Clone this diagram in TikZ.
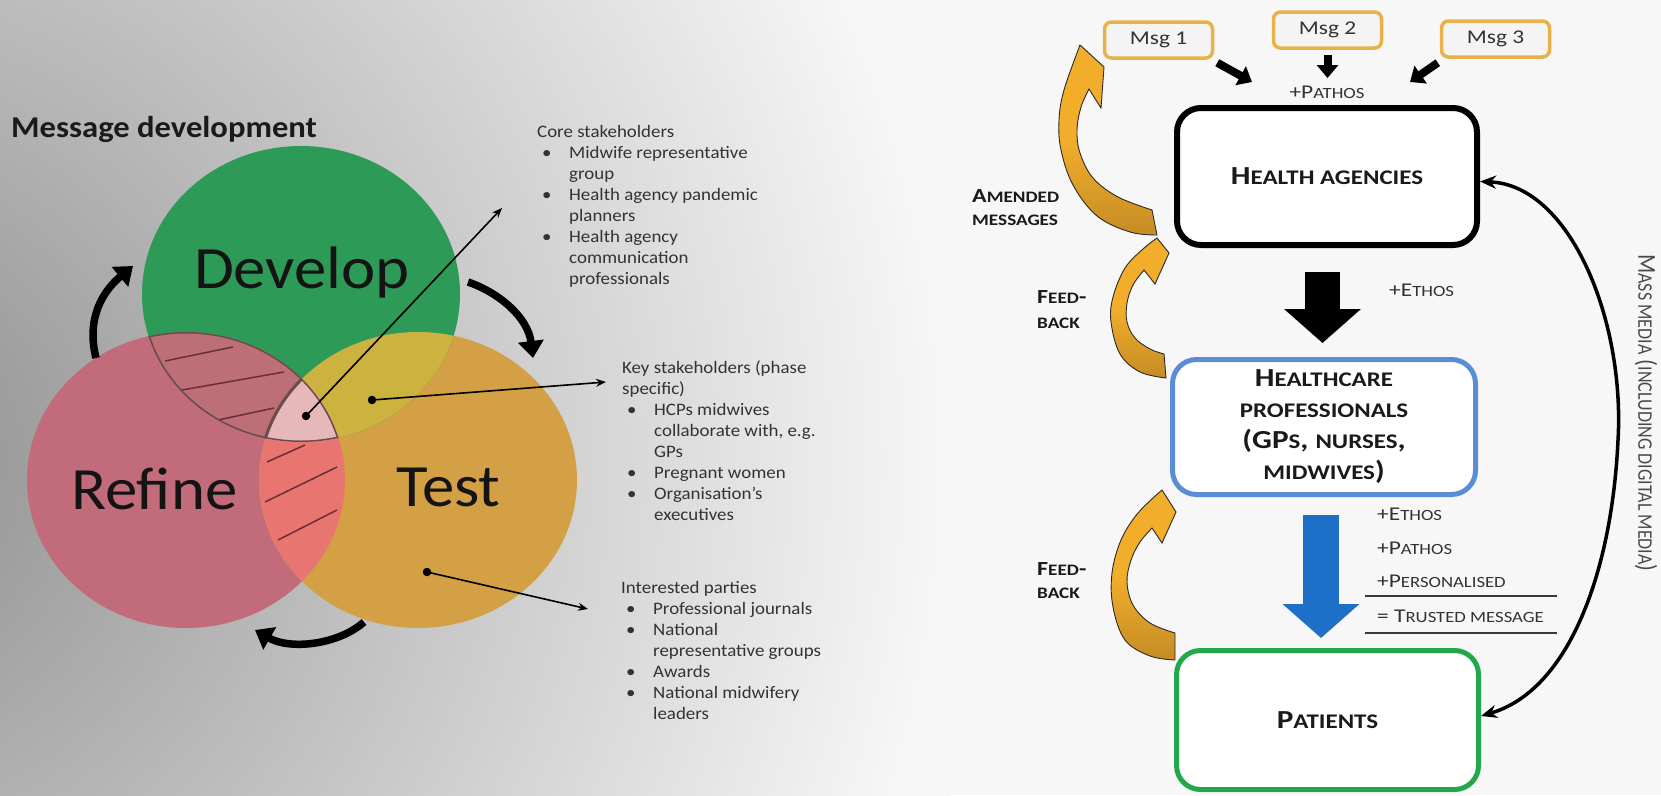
\documentclass[tikz,border=0pt]{standalone}
\usepackage{fontspec}
\setmainfont{Carlito}
\newfontfamily\leftfam{Carlito}[FakeStretch=1.08]
\newfontfamily\rightfam{Carlito}[FakeStretch=1.2]
\usetikzlibrary{arrows.meta}
\makeatletter
\newcommand{\lowsc}[1]{{\fontsize{\fpeval{0.8*\f@size}}{\f@baselineskip}\selectfont #1}}
\makeatother
\newcommand{\itembul}{\hspace*{5pt}\makebox[27pt][l]{•}}
\newcommand{\itemcont}{\hspace*{32pt}}

\definecolor{cdev}{HTML}{2E9A57}
\definecolor{cref}{HTML}{C26B7B}
\definecolor{ctest}{HTML}{D3A046}
\definecolor{cdr}{HTML}{BC6F74}
\definecolor{cdt}{HTML}{CCB23E}
\definecolor{crt}{HTML}{E8756F}
\definecolor{ctri}{HTML}{E6B8B9}
\definecolor{triedge}{HTML}{6B4B4B}
\definecolor{hatch}{HTML}{6A2E36}
\definecolor{vtxt}{HTML}{141414}
\definecolor{txt}{HTML}{333333}
\definecolor{boxtxt}{HTML}{1A1A1A}
\definecolor{gold}{HTML}{E8B24A}
\definecolor{msgfill}{HTML}{F4F4F4}
\definecolor{hcpblue}{HTML}{5B8DD6}
\definecolor{patgreen}{HTML}{22A84A}
\definecolor{arrowblue}{HTML}{1E6FC8}
\definecolor{orlight}{HTML}{F2AE2A}
\definecolor{ordark}{HTML}{C58C26}
\definecolor{ribbonedge}{HTML}{2A2A2A}
\definecolor{rulec}{HTML}{3A3A3A}
\definecolor{mediatxt}{HTML}{4A4A4A}
\definecolor{bgdark}{HTML}{8E8E8E}
\definecolor{bglight}{HTML}{F7F7F7}

\pgfdeclareradialshading{backdrop}{\pgfpoint{0bp}{0bp}}{color(0bp)=(bgdark); color(25bp)=(bglight); color(50bp)=(bglight)}

\begin{document}
\begin{tikzpicture}[x=1pt, y=-1pt,
  vennlabel/.style={font=\leftfam\fontsize{60}{60}\selectfont, text=vtxt, inner sep=0},
  blocktext/.style={font=\leftfam\fontsize{17.5}{21}\selectfont, text=txt, align=left, anchor=north west, inner sep=0},
  dot/.style={circle, fill=black, inner sep=0, minimum size=8.5pt},
  pointer/.style={line width=1.6pt, -{Stealth[length=10pt,width=8pt]}},
  cyc/.style={line width=7.5pt, -{Triangle[length=17pt,width=25pt]}},
  hatchline/.style={draw=hatch, line width=1.5pt},
  msgbox/.style={draw=gold, line width=3.5pt, rounded corners=7pt, fill=msgfill, minimum width=108pt, minimum height=36pt, inner sep=0, font=\rightfam\fontsize{19.5}{22}\selectfont, text=txt},
  msgarr/.style={line width=8pt, -{Triangle[length=13pt,width=21pt]}},
  bigbox/.style={rounded corners=24pt, fill=white, inner sep=0, align=center, font=\rightfam\bfseries\fontsize{26}{31}\selectfont, text=boxtxt},
  lbl/.style={font=\rightfam\fontsize{19.5}{22}\selectfont, text=txt, inner sep=0},
  sidelbl/.style={font=\rightfam\bfseries\fontsize{20}{22}\selectfont, text=boxtxt, inner sep=0, anchor=base west},
  ribbon/.style={top color=orlight, bottom color=ordark, middle color=orlight, draw=ribbonedge, line width=0.9pt},
  media/.style={line width=3.5pt, {Stealth[length=16pt,width=13pt]}-{Stealth[length=16pt,width=13pt]}},
  sumrule/.style={line width=2.5pt, draw=rulec}
]
\useasboundingbox (0,0) rectangle (1661,795);

% backdrop: grey on the left fading to near white
\fill[bglight] (0,0) rectangle (1661,795);
\begin{scope}
  \clip (0,0) rectangle (1661,795);
  \shade[shading=backdrop] (-1250,-640) rectangle (950,1560);
\end{scope}

% ---------- Venn diagram ----------
\fill[cref]  (186,480) ellipse [x radius=159, y radius=148];
\fill[ctest] (418,480) ellipse [x radius=159, y radius=148];
\fill[cdev]  (301,294) ellipse [x radius=159, y radius=148];
\begin{scope}
  \clip (301,294) ellipse [x radius=159, y radius=148];
  \fill[cdr] (186,480) ellipse [x radius=159, y radius=148];
  \fill[cdt] (418,480) ellipse [x radius=159, y radius=148];
\end{scope}
\begin{scope}
  \clip (186,480) ellipse [x radius=159, y radius=148];
  \fill[crt] (418,480) ellipse [x radius=159, y radius=148];
\end{scope}

% hatching in the two lower-left overlaps
\draw[hatchline] (165,361) -- (233,347);
\draw[hatchline] (182,390) -- (284,372);
\draw[hatchline] (218,420) -- (274,408);
\draw[hatchline] (267,462) -- (305,445);
\draw[hatchline] (265,502) -- (337,467);
\draw[hatchline] (278,540) -- (337,510);

% centre region shared by all three
\begin{scope}
  \clip (301,294) ellipse [x radius=159, y radius=148];
  \clip (186,480) ellipse [x radius=159, y radius=148];
  \fill[ctri] (418,480) ellipse [x radius=159, y radius=148];
  \draw[triedge, line width=3pt] (301,294) ellipse [x radius=159, y radius=148];
  \draw[triedge, line width=3pt] (186,480) ellipse [x radius=159, y radius=148];
  \draw[triedge, line width=3pt] (418,480) ellipse [x radius=159, y radius=148];
\end{scope}

\node[vennlabel, anchor=base] (develop) at (302,288) {Develop};
\node[vennlabel, anchor=base west] (refine) at (71,509) {Refine};
\node[vennlabel, anchor=base west] (test) at (396,506) {Test};

% cycle arrows around the circles
\draw[cyc] (96,358) .. controls (86,318) and (103,291) .. (133,266);
\draw[cyc] (468,282) .. controls (500,293) and (528,318) .. (533,358);
\draw[cyc] (364,622) .. controls (338,645) and (290,650) .. (255,630);

\node[font=\leftfam\bfseries\fontsize{30.2}{34}\selectfont, text=boxtxt, anchor=base west, inner sep=0] (title) at (11,137) {Message development};

% stakeholder groups
\node[blocktext] (core) at (537,123.5) {\rule{0pt}{14pt}Core stakeholders\\
\itembul Midwife representative\\
\itemcont group\\
\itembul Health agency pandemic\\
\itemcont planners\\
\itembul Health agency\\
\itemcont communication\\
\itemcont professionals};

\node[blocktext] (key) at (622,359.5) {\rule{0pt}{14pt}Key stakeholders (phase\\
specific)\\
\itembul HCPs midwives\\
\itemcont collaborate with, e.g.\\
\itemcont GPs\\
\itembul Pregnant women\\
\itembul Organisation’s\\
\itemcont executives};

\node[blocktext] (interest) at (621,579) {\rule{0pt}{14pt}Interested parties\\
\itembul Professional journals\\
\itembul National\\
\itemcont representative groups\\
\itembul Awards\\
\itembul National midwifery\\
\itemcont leaders};

\node[dot] (dcore) at (306,416) {};
\node[dot] (dkey) at (372,400) {};
\node[dot] (dint) at (427,572) {};
\coordinate (ecore) at (502,208);
\coordinate (ekey) at (606,382);
\coordinate (eint) at (588,609);
\draw[pointer] (dcore.center) -- (ecore);
\draw[pointer] (dkey.center) -- (ekey);
\draw[pointer] (dint.center) -- (eint);

% ---------- message flow ----------
% feedback ribbons
\shadedraw[ribbon] (1080,45) -- (1104,67) -- (1101,108) -- (1089,89)
  -- plot[smooth, tension=0.6] coordinates {(1089,89) (1081,107) (1077,130) (1080,153) (1093,178) (1118,197) (1152,210)}
  -- (1157,235)
  -- plot[smooth, tension=0.6] coordinates {(1157,235) (1130,232) (1097,216) (1073,185) (1061,150) (1059,120) (1064,90) (1080,45)}
  -- cycle;
\shadedraw[ribbon] (1157,238) -- (1169,253) -- (1155,284) -- (1144,270)
  -- plot[smooth, tension=0.6] coordinates {(1144,270) (1133,285) (1127,303) (1127,322) (1135,338) (1150,349) (1164,354)}
  -- (1166,378)
  -- plot[smooth, tension=0.6] coordinates {(1166,378) (1140,372) (1120,354) (1111,322) (1113,297) (1125,268) (1143,249) (1157,238)}
  -- cycle;
\shadedraw[ribbon] (1162,490) -- (1176,512) -- (1162,543) -- (1152,528)
  -- plot[smooth, tension=0.6] coordinates {(1152,528) (1140,542) (1131,560) (1127,582) (1133,605) (1150,623) (1175,633)}
  -- (1175,660)
  -- plot[smooth, tension=0.6] coordinates {(1175,660) (1150,656) (1125,640) (1113,607) (1112,573) (1121,540) (1138,513) (1162,490)}
  -- cycle;

\node[sidelbl] (amend1) at (972,202) {A\lowsc{MENDED}};
\node[sidelbl] (amend2) at (972,225) {\lowsc{MESSAGES}};
\node[sidelbl] (fbaa) at (1037,303) {F\lowsc{EED}-};
\node[sidelbl] (fbab) at (1037,328) {\lowsc{BACK}};
\node[sidelbl] (fbba) at (1037,575) {F\lowsc{EED}-};
\node[sidelbl] (fbbb) at (1037,598) {\lowsc{BACK}};

% messages
\node[msgbox] (msg1) at (1158.5,40) {Msg 1};
\node[msgbox] (msg2) at (1327.5,30) {Msg 2};
\node[msgbox] (msg3) at (1495.5,39) {Msg 3};
\coordinate (m1e) at (1252,82);
\coordinate (m2e) at (1327.5,78);
\coordinate (m3e) at (1410,82);
\draw[msgarr] ([shift={(3pt,-3pt)}]msg1.south east) -- (m1e);
\draw[msgarr] ([yshift=-5pt]msg2.south) -- (m2e);
\draw[msgarr] ([shift={(-2pt,-4pt)}]msg3.south west) -- (m3e);
\node[lbl, anchor=base] (pathostop) at (1327,98) {+P\lowsc{ATHOS}};

% the three audiences
\node[bigbox, draw=black, line width=6pt, minimum width=300pt, minimum height=137pt] (ha) at (1327,176.5)
  {\raisebox{-4pt}{H\lowsc{EALTH AGENCIES}}};
\node[bigbox, draw=hcpblue, line width=5pt, minimum width=303pt, minimum height=135pt] (hcp) at (1324,427)
  {H\lowsc{EALTHCARE}\\ \lowsc{PROFESSIONALS}\\ (GP\lowsc{S}, \lowsc{NURSES},\\ \lowsc{MIDWIVES})};
\node[bigbox, draw=patgreen, line width=5pt, minimum width=302pt, minimum height=139pt] (pat) at (1327.5,720)
  {P\lowsc{ATIENTS}};

% block arrows between audiences
\draw[line width=35pt, -{Triangle[length=34pt,width=75pt]}]
  ([xshift=-4.5pt,yshift=-24pt]ha.south) -- ([xshift=-1.5pt,yshift=14pt]hcp.north);
\draw[arrowblue, line width=36pt, -{Triangle[length=34pt,width=75pt]}]
  ([xshift=-3pt,yshift=-17.5pt]hcp.south) -- ([xshift=-6.5pt,yshift=10pt]pat.north);

\node[lbl, anchor=base west] (ethostop) at (1389,296) {+E\lowsc{THOS}};
\node[lbl, anchor=base west] (ethos) at (1377,520) {+E\lowsc{THOS}};
\node[lbl, anchor=base west] (pathos) at (1377,554) {+P\lowsc{ATHOS}};
\node[lbl, anchor=base west] (personal) at (1377,587) {+P\lowsc{ERSONALISED}};
\node[lbl, anchor=base west] (trusted) at (1377,622) {= T\lowsc{RUSTED MESSAGE}};
\coordinate (ra) at (1365,596);
\coordinate (rb) at (1557,596);
\coordinate (rc) at (1365,633);
\coordinate (rd) at (1557,633);
\draw[sumrule] (ra) -- (rb);
\draw[sumrule] (rc) -- (rd);

% mass media channel
\draw[media] ([yshift=-5pt]ha.east) .. controls (1570,185) and (1625,320) .. (1618,440)
  .. controls (1612,570) and (1570,690) .. ([yshift=4pt]pat.east);
\node[rotate=-90, font=\fontsize{22.5}{24}\selectfont, text=mediatxt, inner sep=0] (mediatext) at (1646,413)
  {\scalebox{1}[1.15]{M\lowsc{ASS MEDIA} (\lowsc{INCLUDING DIGITAL MEDIA})}};
\end{tikzpicture}
\end{document}
